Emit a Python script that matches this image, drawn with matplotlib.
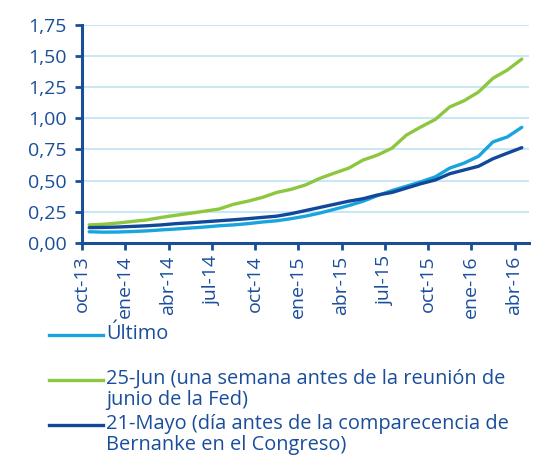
# curvas implícitas de tipos fed funds: último vs. fechas de referencia
import numpy as np
import matplotlib
matplotlib.use("Agg")
import matplotlib.pyplot as plt
from matplotlib.lines import Line2D
from matplotlib.ticker import FuncFormatter

plt.rcParams['font.family'] = ['Open Sans', 'DejaVu Sans']

# datos mensuales, oct-13 .. abr-16
tick_labels = ["oct-13", "ene-14", "abr-14", "jul-14", "oct-14", "ene-15",
               "abr-15", "jul-15", "oct-15", "ene-16", "abr-16"]
labels = ["Último",
          "25-Jun (una semana antes de la reunión de\njunio de la Fed)",
          "21-Mayo (día antes de la comparecencia de\nBernanke en el Congreso)"]
ultimo = [0.090, 0.087, 0.088, 0.092, 0.097, 0.105, 0.112, 0.120, 0.128, 0.138,
          0.145, 0.155, 0.168, 0.178, 0.195, 0.215, 0.240, 0.270, 0.300, 0.335,
          0.380, 0.420, 0.455, 0.490, 0.530, 0.600, 0.640, 0.695, 0.810, 0.850,
          0.927]
jun25 = [0.145, 0.150, 0.160, 0.173, 0.185, 0.205, 0.222, 0.238, 0.255, 0.272,
         0.310, 0.335, 0.365, 0.405, 0.430, 0.465, 0.518, 0.560, 0.600, 0.665,
         0.705, 0.760, 0.865, 0.930, 0.990, 1.090, 1.140, 1.210, 1.320, 1.386,
         1.474]
mayo21 = [0.123, 0.125, 0.128, 0.133, 0.138, 0.145, 0.155, 0.162, 0.170, 0.178,
          0.186, 0.195, 0.205, 0.215, 0.235, 0.260, 0.285, 0.310, 0.335, 0.355,
          0.385, 0.405, 0.440, 0.475, 0.505, 0.555, 0.585, 0.615, 0.675, 0.720,
          0.764]

c_text = "#1A4E9B"
c_grid = "#C3E6F6"
colors = ["#18A4DE", "#8DC63F", "#12489A"]
series = [ultimo, jun25, mayo21]

fig = plt.figure(figsize=(5.36, 4.59), dpi=100)
ax = fig.add_axes([82/536, 1-243/459, 447/536, 218.4/459])

x = np.arange(len(ultimo)) + 0.5
for vals, col, lab in zip(series, colors, labels):
    ax.plot(x, vals, color=col, lw=2.4, label=lab, solid_capstyle='round', zorder=3)

ax.set_xlim(0, len(ultimo))
ax.set_ylim(0, 1.75)
ax.set_yticks(np.arange(0, 1.76, 0.25))
ax.yaxis.set_major_formatter(FuncFormatter(lambda v, p: f"{v:.2f}".replace(".", ",")))
ax.set_xticks(np.arange(0, len(tick_labels)*3, 3))
ax.set_xticklabels(tick_labels, rotation=90)

ax.grid(axis='y', color=c_grid, lw=1.3, zorder=0)
for s in ["top", "right"]:
    ax.spines[s].set_visible(False)
for s in ["left", "bottom"]:
    ax.spines[s].set_color(c_text)
    ax.spines[s].set_linewidth(2.2)
ax.tick_params(axis='both', colors=c_text, labelsize=14, width=2, length=5, pad=4)
ax.tick_params(axis='y', pad=6)

# leyenda a mano: línea alineada con la primera línea del texto
ys = [335, 380, 425]
for col, lab, yp in zip(colors, labels, ys):
    fig.add_artist(Line2D([49/536, 103/536], [1-yp/459]*2, color=col, lw=2.4,
                          transform=fig.transFigure))
    fig.text(106/536, 1-(yp-11)/459, lab, color=c_text, fontsize=14.4,
             va='top', ha='left', linespacing=1.08)

fig.savefig("out.png", dpi=100)
